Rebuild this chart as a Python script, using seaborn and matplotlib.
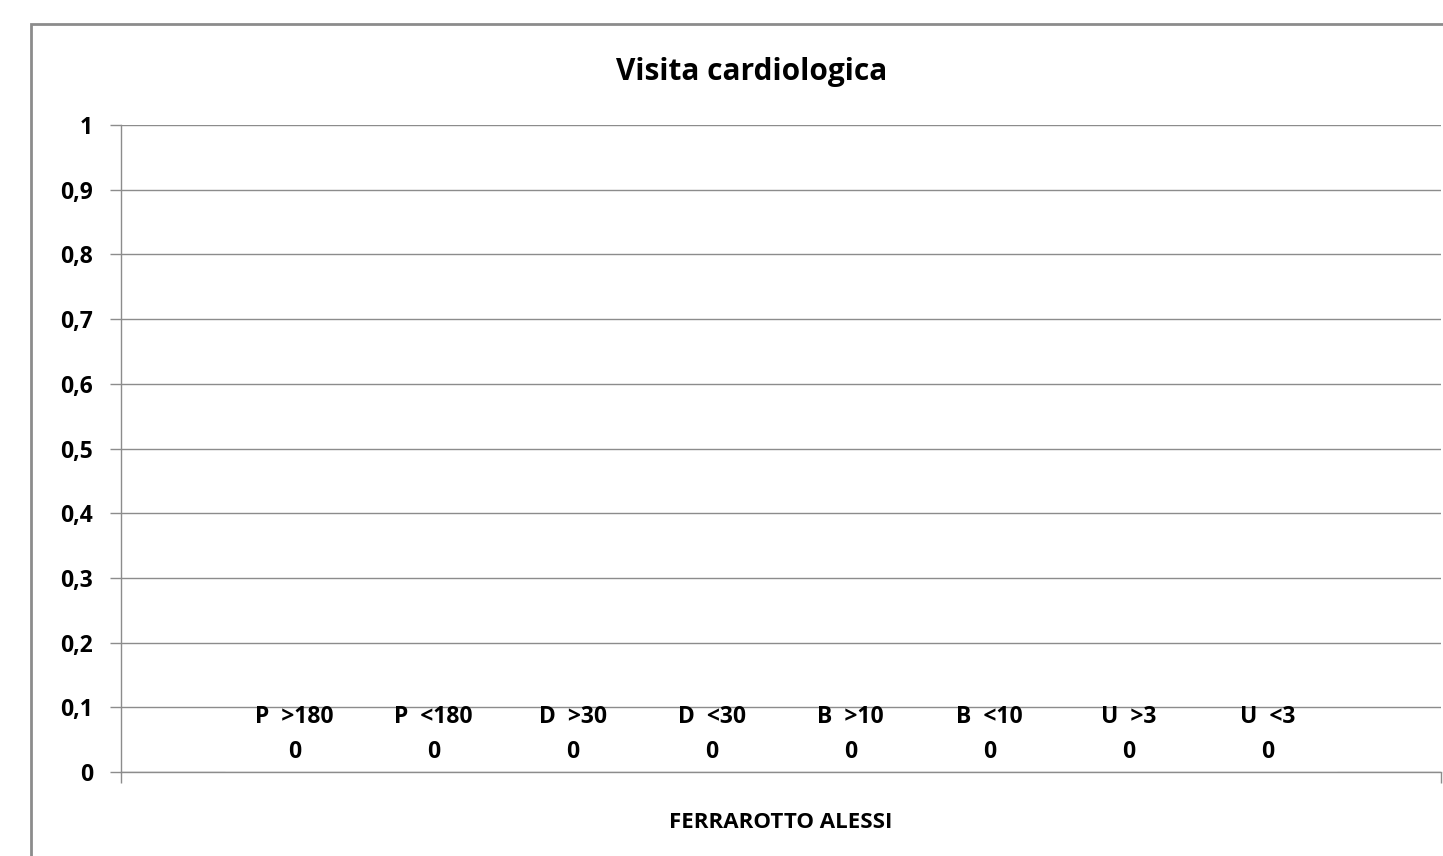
import matplotlib
matplotlib.use("Agg")
import matplotlib.pyplot as plt
import matplotlib.patches as patches
import seaborn as sns
import pandas as pd

# dati del grafico
categoria = ["FERRAROTTO ALESSI"]
serie = ["P  >180", "P  <180", "D  >30", "D  <30", "B  >10", "B  <10", "U  >3", "U  <3"]
valori = [0, 0, 0, 0, 0, 0, 0, 0]
y_ticks = [0, 0.1, 0.2, 0.3, 0.4, 0.5, 0.6, 0.7, 0.8, 0.9, 1]
y_labels = ["0", "0,1", "0,2", "0,3", "0,4", "0,5", "0,6", "0,7", "0,8", "0,9", "1"]

tabela = pd.DataFrame({
    "categoria": categoria * len(serie),
    "serie": serie,
    "valore": valori,
})

sns.set_style("white")
plt.rcParams["font.family"] = ["Open Sans", "DejaVu Sans"]
plt.rcParams["font.weight"] = "bold"
plt.rcParams["text.color"] = "black"
plt.rcParams["xtick.color"] = "black"
plt.rcParams["ytick.color"] = "black"

fig = plt.figure(figsize=(14.43, 8.56), dpi=100)
ax = fig.add_axes([121 / 1443, 1 - 772 / 856, 1320 / 1443, 647 / 856])

# cornice del grafico
cornice = patches.Rectangle((31 / 1443, -0.1), 1.2, 0.972 + 0.1, transform=fig.transFigure,
                            fill=False, edgecolor="#8c8c8c", linewidth=2, clip_on=False)
fig.patches.append(cornice)

sns.barplot(data=tabela, x="categoria", y="valore", hue="serie", width=0.842,
            palette=["#4f81bd"] * len(serie), legend=False, ax=ax)

for cont, nome, v in zip(ax.containers, serie, valori):
    ax.bar_label(cont, labels=[f"{nome}\n{v}"], padding=6, fontsize=16.5,
                 fontweight="bold", linespacing=1.62, color="black")

ax.set_xlim(-0.5, 0.5)
ax.set_ylim(0, 1)
ax.set_yticks(y_ticks)
ax.set_yticklabels(y_labels, fontsize=16.5, fontweight="bold")
ax.yaxis.grid(True, color="#8c8c8c", linewidth=1)
ax.set_axisbelow(True)
ax.tick_params(axis="y", direction="out", length=8, width=1, color="#8c8c8c",
               labelcolor="black", pad=12, left=True)
ax.set_xticks([0])
ax.set_xticklabels(categoria, fontsize=16, fontweight="bold")
ax.tick_params(axis="x", length=0, pad=29, labelcolor="black")
ax.set_xticks([-0.5, 0.5], minor=True)
ax.tick_params(axis="x", which="minor", direction="out", length=8, width=1, color="#8c8c8c", bottom=True)
ax.set_xlabel("")
ax.set_ylabel("")

for lato in ["top", "right"]:
    ax.spines[lato].set_visible(False)
for lato in ["left", "bottom"]:
    ax.spines[lato].set_color("#8c8c8c")
    ax.spines[lato].set_linewidth(1)

fig.text(752 / 1443, 1 - 72 / 856, "Visita cardiologica", ha="center", va="center",
         fontsize=21.5, fontweight="bold")

fig.savefig("out.png", dpi=100)
